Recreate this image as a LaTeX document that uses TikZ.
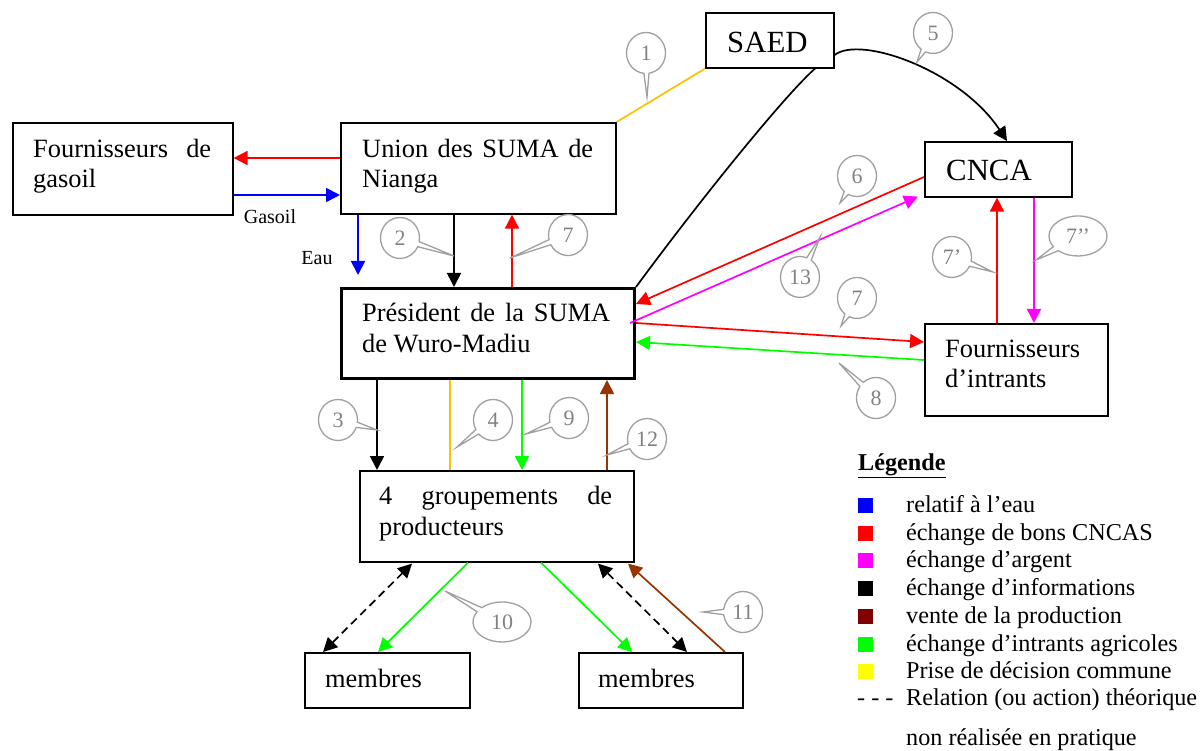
\documentclass[tikz,border=0pt]{standalone}
\usepackage{fontspec}
\setmainfont{Liberation Serif}
\usetikzlibrary{arrows.meta,calc,shapes.callouts}
\definecolor{cred}{RGB}{255,0,0}
\definecolor{cblue}{RGB}{0,0,255}
\definecolor{cmag}{RGB}{255,0,255}
\definecolor{cgreen}{RGB}{0,255,0}
\definecolor{cyell}{RGB}{255,192,0}
\definecolor{cbrown}{RGB}{153,51,0}
\definecolor{lbrown}{RGB}{128,0,0}
\definecolor{lyell}{RGB}{255,255,0}
\definecolor{bubline}{RGB}{160,160,160}
\definecolor{bubtext}{RGB}{130,130,130}
\begin{document}
\begin{tikzpicture}[x=1pt,y=-1pt,
  box/.style={draw, line width=1.6pt, inner sep=0pt, anchor=north west},
  txt/.style={anchor=base west, inner sep=0pt, font=\fontsize{26.4}{30.4}\selectfont},
  bigtxt/.style={anchor=base west, inner sep=0pt, font=\fontsize{30.8}{34}\selectfont},
  smalltxt/.style={anchor=center, inner sep=0pt, font=\fontsize{20}{24}\selectfont},
  legtxt/.style={anchor=base west, inner sep=0pt, font=\fontsize{24.2}{28}\selectfont},
  legsq/.style={minimum size=15pt, inner sep=0pt},
  conn/.style={line width=1.7pt},
  arr/.style={conn, -{Triangle[length=14pt,width=14pt]}},
  darr/.style={conn, dash pattern=on 8pt off 5pt, {Triangle[length=14pt,width=14pt]}-{Triangle[length=14pt,width=14pt]}},
  bub/.style={ellipse callout, draw=bubline, line width=1.3pt, text=bubtext,
    font=\fontsize{22}{24}\selectfont, inner sep=0pt, minimum width=39pt,
    minimum height=41pt, callout pointer arc=15}
]
\useasboundingbox (0,0) rectangle (1200,751);

% boxes
\node[box, minimum width=220pt, minimum height=92pt] (gas) at (12,122) {};
\node[box, minimum width=275pt, minimum height=91pt] (union) at (340,122) {};
\node[box, minimum width=128pt, minimum height=55pt] (saed) at (705,12) {};
\node[box, minimum width=147pt, minimum height=55pt] (cnca) at (924,141) {};
\node[box, line width=3pt, minimum width=293pt, minimum height=90pt] (pres) at (340,287) {};
\node[box, minimum width=183pt, minimum height=92pt] (intr) at (924,323) {};
\node[box, minimum width=274pt, minimum height=91pt] (grp) at (359,470) {};
\node[box, minimum width=165pt, minimum height=55pt] (memA) at (304,652) {};
\node[box, minimum width=164pt, minimum height=55pt] (memB) at (578,652) {};

% box texts
\node[txt] (gasA) at (33,158) {\makebox[178pt][s]{Fournisseurs de}};
\node[txt] (gasB) at (33,188) {gasoil};
\node[txt] (unA) at (362,158) {\makebox[231pt][s]{Union des SUMA de}};
\node[txt] (unB) at (362,188) {Nianga};
\node[bigtxt] (saedT) at (727,53) {SAED};
\node[bigtxt] (cncaT) at (946,181) {CNCA};
\node[txt] (prA) at (362,322) {\makebox[248pt][s]{Président de la SUMA}};
\node[txt] (prB) at (362,353) {de Wuro-Madiu};
\node[txt] (inA) at (945,358) {Fournisseurs};
\node[txt] (inB) at (945,388) {d’intrants};
\node[txt] (grA) at (379,504) {\makebox[233pt][s]{4 groupements de}};
\node[txt] (grB) at (379,535) {producteurs};
\node[txt] (maT) at (325,687) {membres};
\node[txt] (mbT) at (598,687) {membres};

% small labels
\node[smalltxt] (gasoilL) at (270,217) {Gasoil};
\node[smalltxt] (eauL) at (317,258) {Eau};
\coordinate (eauEnd) at (358,275);

% connectors
\draw[arr, cred] ($(union.north west)+(0,36)$) -- ($(gas.north east)+(0,36)$);
\draw[arr, cblue] ($(gas.north east)+(0,73)$) -- ($(union.north west)+(0,73)$);
\draw[arr, cblue] ($(union.south west)+(18,0)$) -- (eauEnd);
\draw[arr, black] ($(union.south west)+(114,0)$) -- ($(pres.north west)+(114,0)$);
\draw[arr, cred] ($(pres.north west)+(172,0)$) -- ($(union.south west)+(172,0)$);
\draw[conn, cyell] (saed.south west) -- (union.north east);
\draw[arr, black] ($(saed.north east)+(0,43)$) .. controls (860,35) and (960,70) .. ($(cnca.north west)+(83,0)$);
\draw[conn, black] ($(saed.south west)+(110,0)$) .. controls (785,95) and (700,200) .. (pres.north east);
\draw[arr, cred] ($(cnca.north west)+(0,36)$) -- ($(pres.north east)+(0,17)$);
\draw[arr, cmag] ($(pres.north east)+(-6,36)$) -- ($(cnca.south west)+(-6,-1)$);
\draw[arr, cred] ($(pres.north east)+(0,36)$) -- ($(intr.north west)+(0,19)$);
\draw[arr, cgreen] ($(intr.north west)+(0,37)$) -- ($(pres.north east)+(0,55)$);
\draw[arr, cred] ($(intr.north west)+(73,0)$) -- ($(cnca.south west)+(73,0)$);
\draw[arr, cmag] ($(cnca.south west)+(110,0)$) -- ($(intr.north west)+(110,0)$);
\draw[arr, black] ($(pres.south west)+(37,0)$) -- ($(grp.north west)+(18,0)$);
\draw[conn, cyell] ($(pres.south west)+(110,0)$) -- ($(grp.north west)+(91,0)$);
\draw[arr, cgreen] ($(pres.south west)+(182,0)$) -- ($(grp.north west)+(163,0)$);
\draw[arr, cbrown] ($(grp.north west)+(248,0)$) -- ($(pres.south west)+(267,0)$);
\draw[darr, black] ($(memA.north west)+(19,0)$) -- ($(grp.south west)+(53,1)$);
\draw[arr, cgreen] ($(grp.south west)+(109,0)$) -- ($(memA.north west)+(74,0)$);
\draw[arr, cgreen] ($(grp.south west)+(182,0)$) -- ($(memB.north west)+(54,0)$);
\draw[darr, black] ($(grp.south west)+(239,1)$) -- ($(memB.north west)+(109,0)$);
\draw[arr, cbrown] ($(memB.north west)+(147,0)$) -- ($(grp.south west)+(269,1)$);

% callouts
\node[bub, callout absolute pointer={(647,97)}] (c1) at (646,53) {1};
\node[bub, callout absolute pointer={(454,256)}] (c2) at (400,238) {2};
\node[bub, callout absolute pointer={(510,258)}] (c7a) at (568,235) {7};
\node[bub, callout absolute pointer={(917,62)}] (c5) at (933,33) {5};
\node[bub, callout absolute pointer={(840,203)}] (c6) at (857,176) {6};
\node[bub, callout absolute pointer={(820,237)}] (c13) at (800,277) {13};
\node[bub, callout absolute pointer={(841,326)}] (c7b) at (857,298) {7};
\node[bub, callout absolute pointer={(839,363)}] (c8) at (876,398) {8};
\node[bub, callout absolute pointer={(993,272)}] (c7p) at (952,257) {7’};
\node[bub, minimum width=58pt, minimum height=40pt, callout absolute pointer={(1036,260)}] (c7pp) at (1078,236) {7’’};
\node[bub, callout absolute pointer={(377,430)}] (c3) at (338,420) {3};
\node[bub, callout absolute pointer={(457,447)}] (c4) at (493,420) {4};
\node[bub, callout absolute pointer={(526,434)}] (c9) at (569,418) {9};
\node[bub, callout absolute pointer={(607,455)}] (c12) at (647,439) {12};
\node[bub, minimum width=58pt, minimum height=40pt, callout absolute pointer={(445,591)}] (c10) at (502,622) {10};
\node[bub, callout absolute pointer={(703,612)}] (c11) at (743,612) {11};

% legend
\node[legtxt] (legT) at (858,470) {\underline{\textbf{Légende}}};
\node[legsq, fill=cblue] (sq1) at (865.5,505) {};
\node[legsq, fill=cred] (sq2) at (865.5,533) {};
\node[legsq, fill=cmag] (sq3) at (865.5,560) {};
\node[legsq, fill=black] (sq4) at (865.5,588) {};
\node[legsq, fill=lbrown] (sq5) at (865.5,616) {};
\node[legsq, fill=cgreen] (sq6) at (865.5,644) {};
\node[legsq, fill=lyell] (sq7) at (865.5,671) {};
\node[legtxt] (lt1) at (906,512) {relatif à l’eau};
\node[legtxt] (lt2) at (906,540) {échange de bons CNCAS};
\node[legtxt] (lt3) at (906,567) {échange d’argent};
\node[legtxt] (lt4) at (906,595) {échange d’informations};
\node[legtxt] (lt5) at (906,623) {vente de la production};
\node[legtxt] (lt6) at (906,651) {échange d’intrants agricoles};
\node[legtxt] (lt7) at (906,678) {Prise de décision commune};
\node[legtxt] (ldash) at (857,705) {- - -};
\node[legtxt] (lt8) at (906,705) {Relation (ou action) théorique};
\node[legtxt] (lt9) at (906,745) {non réalisée en pratique};
\end{tikzpicture}
\end{document}
